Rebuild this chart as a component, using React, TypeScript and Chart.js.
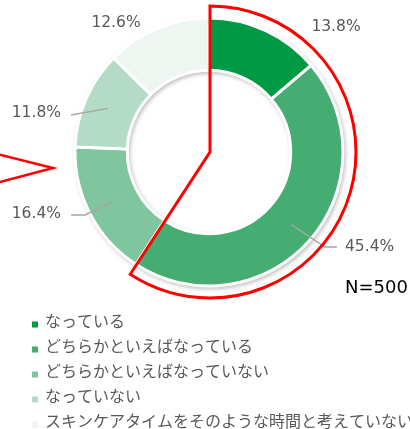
import React, { useEffect, useRef } from "react";
import { Chart, registerables } from "chart.js";

Chart.register(...registerables);

const categories = [
  "なっている",
  "どちらかといえばなっている",
  "どちらかといえばなっていない",
  "なっていない",
  "スキンケアタイムをそのような時間と考えていない",
];
const values = [13.8, 45.4, 16.4, 11.8, 12.6];
const valueLabels = ["13.8%", "45.4%", "16.4%", "11.8%", "12.6%"];
const colors = ["#009a44", "#45ad72", "#7fc59e", "#b3dbc5", "#eef6f1"];
const highlightCount = 2;
const sampleLabel = "N=500";

// label layout relative to the doughnut centre (px)
const labelLayout: { dx: number; dy: number; align: CanvasTextAlign; leader: number[][] | null }[] = [
  { dx: 127, dy: -125, align: "center", leader: null },
  { dx: 136, dy: 95, align: "left", leader: [[116, 95], [128, 95]] },
  { dx: -148, dy: 62, align: "right", leader: [[-124, 63], [-138, 63]] },
  { dx: -148, dy: -39, align: "right", leader: [[-138, -37]] },
  { dx: -93, dy: -129, align: "center", leader: null },
];

const overlayPlugin = {
  id: "overlay",
  beforeDatasetsDraw(chart: any) {
    const meta = chart.getDatasetMeta(0);
    const a = meta.data[0];
    if (!a) return;
    const { x, y, innerRadius, outerRadius } = a.getProps(["x", "y", "innerRadius", "outerRadius"], true);
    const ctx = chart.ctx;
    ctx.save();
    ctx.shadowColor = "rgba(0,0,0,0.28)";
    ctx.shadowBlur = 4;
    ctx.shadowOffsetX = 1.5;
    ctx.shadowOffsetY = 2;
    ctx.beginPath();
    ctx.arc(x, y, outerRadius + 1, 0, Math.PI * 2);
    ctx.arc(x, y, innerRadius - 1, 0, Math.PI * 2, true);
    ctx.fillStyle = "#ffffff";
    ctx.fill("evenodd");
    ctx.restore();
  },
  afterDatasetsDraw(chart: any) {
    const meta = chart.getDatasetMeta(0);
    const ctx = chart.ctx;
    const first = meta.data[0].getProps(["x", "y", "startAngle", "innerRadius", "outerRadius"], true);
    const cx = first.x;
    const cy = first.y;
    const midR = (first.innerRadius + first.outerRadius) / 2 + 2;

    // value labels and leaders
    ctx.save();
    ctx.font = "15.5px 'DejaVu Sans'";
    ctx.fillStyle = "#595959";
    ctx.textBaseline = "middle";
    meta.data.forEach((arc: any, i: number) => {
      const p = arc.getProps(["startAngle", "endAngle"], true);
      const lay = labelLayout[i];
      if (lay.leader) {
        const mid = (p.startAngle + p.endAngle) / 2;
        ctx.beginPath();
        ctx.moveTo(cx + midR * Math.cos(mid), cy + midR * Math.sin(mid));
        lay.leader.forEach((pt) => ctx.lineTo(cx + pt[0], cy + pt[1]));
        ctx.strokeStyle = "#a6a6a6";
        ctx.lineWidth = 1.5;
        ctx.stroke();
      }
      ctx.textAlign = lay.align;
      ctx.fillText(valueLabels[i], cx + lay.dx, cy + lay.dy);
    });
    ctx.restore();

    // red highlight outline
    const startA = meta.data[0].getProps(["startAngle"], true).startAngle;
    const endA = meta.data[highlightCount - 1].getProps(["endAngle"], true).endAngle;
    const R = first.outerRadius + 12;
    ctx.save();
    ctx.beginPath();
    ctx.moveTo(cx + 1, cy);
    ctx.lineTo(cx + 1 + R * Math.cos(startA), cy + R * Math.sin(startA));
    ctx.arc(cx + 1, cy, R, startA, endA);
    ctx.closePath();
    ctx.strokeStyle = "#ff0000";
    ctx.lineWidth = 3;
    ctx.lineJoin = "miter";
    ctx.stroke();

    // red pointer triangle at the left
    ctx.beginPath();
    ctx.moveTo(cx - 232, cy - 3);
    ctx.lineTo(cx - 156, cy + 16);
    ctx.lineTo(cx - 232, cy + 36);
    ctx.lineWidth = 2.5;
    ctx.stroke();
    ctx.restore();

    // N label
    ctx.save();
    ctx.font = "18px 'DejaVu Sans'";
    ctx.fillStyle = "#000000";
    ctx.textAlign = "left";
    ctx.textBaseline = "alphabetic";
    ctx.fillText(sampleLabel, cx + 136, cy + 141);
    ctx.restore();

    // legend
    ctx.save();
    ctx.font = "16px 'Noto Sans CJK JP'";
    ctx.fillStyle = "#595959";
    ctx.textBaseline = "middle";
    ctx.textAlign = "left";
    categories.forEach((c, i) => {
      const yy = 321 + i * 25;
      ctx.fillStyle = colors[i];
      ctx.fillRect(32, yy + 0.5, 6, 6);
      ctx.fillStyle = "#595959";
      ctx.fillText(c, 45, yy);
    });
    ctx.restore();
  },
};

export default function App() {
  const ref = useRef<HTMLCanvasElement | null>(null);
  useEffect(() => {
    if (!ref.current) return;
    const chart = new Chart(ref.current, {
      type: "doughnut",
      data: {
        labels: categories,
        datasets: [
          {
            data: values,
            backgroundColor: colors,
            borderColor: "#ffffff",
            borderWidth: 3,
          },
        ],
      },
      options: {
        animation: false,
        responsive: true,
        maintainAspectRatio: false,
        cutout: "61%",
        layout: { padding: { left: 73.5, right: 65.5, top: 16.5, bottom: 141.5 } },
        plugins: {
          legend: { display: false },
          tooltip: { enabled: false },
        },
      },
      plugins: [overlayPlugin],
    });
    return () => chart.destroy();
  }, []);
  return (
    <div style={{ position: "fixed", left: 0, top: 0, width: 410, height: 429, background: "#ffffff" }}>
      <canvas ref={ref} />
    </div>
  );
}
